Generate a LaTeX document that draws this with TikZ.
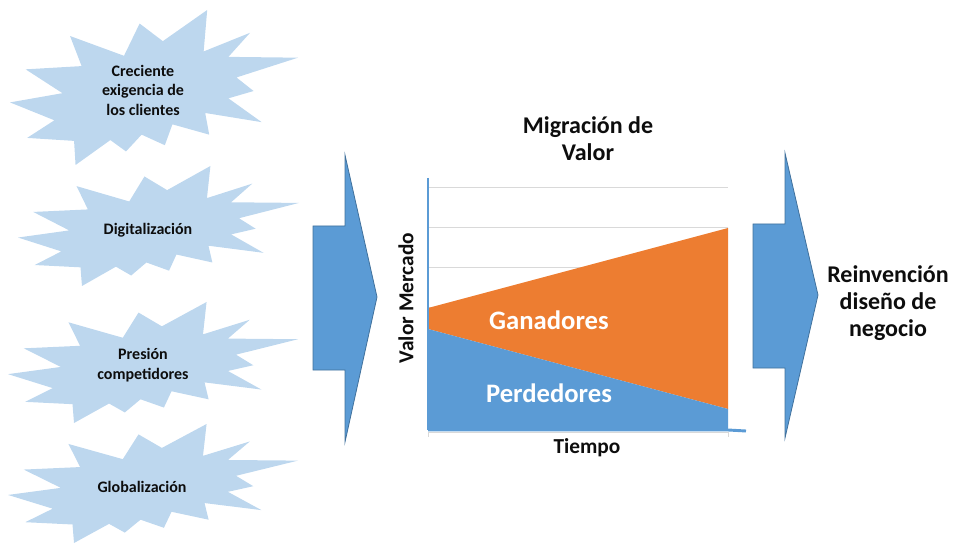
\documentclass[tikz,border=0pt]{standalone}
\usepackage{fontspec}
\setmainfont{Carlito}
\definecolor{burstblue}{HTML}{BDD7EE}
\definecolor{arrowblue}{HTML}{5B9BD5}
\definecolor{arrowedge}{HTML}{41719C}
\definecolor{gain}{HTML}{ED7D31}
\definecolor{gridgray}{HTML}{D9D9D9}
\definecolor{txt}{HTML}{0D0D0D}
\newcommand\myburst[4]{%
  \begin{scope}[shift={(#1,#2)},xscale={#3/216},yscale={#4/216}]
    \fill[burstblue] (114.62,43.42) -- (147.90,0) -- (145.25,57.77) -- (180.07,31.72) -- (163.80,65.32) -- (216,66.45) -- (169.85,94.02) -- (182.70,112.90) -- (163.80,123.10) -- (188.77,156.32) -- (146.40,143.50) -- (149.42,173.70) -- (121.80,159.35) -- (116.12,188.42) -- (98.72,173.70) -- (87.00,197.12) -- (75.27,181.25) -- (49.17,216) -- (48.05,182.40) -- (12.85,178.25) -- (33.30,153.70) -- (0,128.77) -- (39.35,115.92) -- (11.72,82.70) -- (53.72,78.17) -- (45.02,36.25) -- (85.50,63.82) -- (97.22,18.87) -- cycle;
  \end{scope}}
\tikzset{
  bursttext/.style={font=\bfseries\fontsize{12}{14.6}\selectfont, text=txt, align=center, inner sep=0pt},
  bigtext/.style={font=\bfseries\fontsize{18}{20.5}\selectfont, text=txt, align=center, inner sep=0pt},
  axistext/.style={font=\bfseries\fontsize{16}{19}\selectfont, text=txt, inner sep=0pt},
  areatext/.style={font=\bfseries\fontsize{20}{24}\selectfont, text=white, inner sep=0pt},
  bigarrow/.style={fill=arrowblue, draw=arrowedge, line width=0.6pt, line join=miter},
  gridline/.style={draw=gridgray, line width=0.75pt},
  axisline/.style={draw=arrowblue, line width=2.2pt}
}
\begin{document}
\begin{tikzpicture}[x=0.75pt,y=-0.75pt]
\useasboundingbox (0,0) rectangle (953,545);
% starbursts
\myburst{10}{10}{288}{155}
\myburst{18}{166}{281}{120}
\myburst{8}{302}{290}{121}
\myburst{8}{424}{290}{119}
\node[bursttext] (c1) at (143,90) {Creciente\\exigencia de\\los clientes};
\node[bursttext] (c2) at (148,230) {Digitalización};
\node[bursttext] (c3) at (143,365) {Presión\\competidores};
\node[bursttext] (c4) at (142,487) {Globalización};
% big arrows
\draw[bigarrow] (313,226) -- (345,226) -- (345,155) -- (377,297) -- (345,442) -- (345,370) -- (313,370) -- cycle;
\draw[bigarrow] (753,224) -- (785,224) -- (785,153) -- (818,295) -- (785,438) -- (785,368) -- (753,368) -- cycle;
% chart
\draw[gridline] (428,188) -- (728,188);
\draw[gridline] (428,228) -- (728,228);
\draw[gridline] (428,268) -- (728,268);
\draw[gridline] (428,308) -- (728,308);
\draw[gridline] (428,432) -- (728,432);
\draw[gridline] (428,432) -- (428,437);
\draw[gridline] (728,432) -- (728,437);
\fill[gain] (428,308) -- (728,228) -- (728,409) -- (428,329) -- cycle;
\fill[arrowblue] (428,329) -- (728,409) -- (728,430) -- (428,430) -- cycle;
\draw[axisline] (428,178) -- (428,430);
\draw[axisline] (428,430) -- (728,430) -- (746,431);
\node[areatext] (gan) at (549,320) {Ganadores};
\node[areatext] (per) at (549,393) {Perdedores};
\node[axistext, rotate=90] (vm) at (406,298) {Valor Mercado};
\node[axistext] (tp) at (587,448) {Tiempo};
\node[bigtext] (title) at (588,139) {Migración de\\Valor};
\node[bigtext] (rd) at (888,303) {Reinvención\\diseño de\\negocio};
\end{tikzpicture}
\end{document}
